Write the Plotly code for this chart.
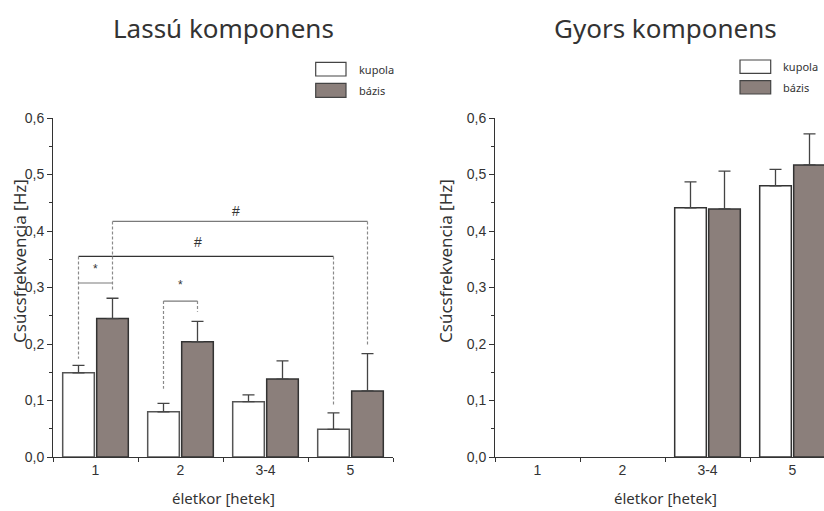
import plotly.graph_objects as go

# ---------------- data ----------------
categories = ["1", "2", "3-4", "5"]
series_names = ["kupola", "bázis"]

slow_kupola = [0.149, 0.080, 0.098, 0.049]
slow_kupola_err = [0.013, 0.015, 0.012, 0.029]
slow_bazis = [0.245, 0.204, 0.138, 0.117]
slow_bazis_err = [0.036, 0.036, 0.032, 0.066]

fast_kupola = [None, None, 0.441, 0.480]
fast_kupola_err = [0, 0, 0.046, 0.029]
fast_bazis = [None, None, 0.439, 0.517]
fast_bazis_err = [0, 0, 0.067, 0.055]

y_ticks = [0.0, 0.1, 0.2, 0.3, 0.4, 0.5, 0.6]

# significance brackets (left panel): start/end given as (category index, series)
sig_labels = ["*", "*", "#", "#"]
sig_start = [(0, "kupola"), (1, "kupola"), (0, "kupola"), (0, "bázis")]
sig_end = [(0, "bázis"), (1, "bázis"), (3, "kupola"), (3, "bázis")]
sig_level = [0.308, 0.276, 0.355, 0.417]
sig_drop_start = [None, 0.121, 0.174, 0.295]
sig_drop_end = [None, 0.257, 0.093, 0.198]
sig_label_x = [0.0, 1.0, 1.2, 1.65]
sig_label_y = [0.332, 0.305, 0.380, 0.436]
sig_line_color = ["#7a7a7a", "#7a7a7a", "#333333", "#7a7a7a"]

# ---------------- style ----------------
W, H = 824, 511
M_T, M_B = 118, 54
PLOT_H = H - M_T - M_B
CAT_PX = 85.0
LEFT_X0, LEFT_X1 = 53, 393
RIGHT_X0 = 495

KUPOLA_FILL = "#ffffff"
KUPOLA_LINE = "#555555"
BAZIS_FILL = "#8b7f7b"
BAZIS_LINE = "#333333"
AXIS_COL = "#333333"
TICK_FONT = dict(family="Liberation Sans, Arial, sans-serif", size=14, color="#333333")
TEXT_FONT = "Comic Sans MS, Noto Sans, sans-serif"

offset = {"kupola": -0.2, "bázis": 0.2}


def py_to_paper(py):
    return (H - M_B - py) / PLOT_H


def px_to_paper(px):
    return px / W


fig = go.Figure()


def add_bars(yvals, errs, name, fill, line, xa, ya):
    fig.add_trace(go.Bar(
        x=categories, y=yvals, name=name,
        marker=dict(color=fill, line=dict(color=line, width=1.5)),
        error_y=dict(type="data", symmetric=False, array=errs,
                     arrayminus=[0] * len(errs), color="#444444",
                     thickness=1.3, width=6),
        xaxis=xa, yaxis=ya, showlegend=False,
    ))


add_bars(slow_kupola, slow_kupola_err, series_names[0], KUPOLA_FILL, KUPOLA_LINE, "x", "y")
add_bars(slow_bazis, slow_bazis_err, series_names[1], BAZIS_FILL, BAZIS_LINE, "x", "y")
add_bars(fast_kupola, fast_kupola_err, series_names[0], KUPOLA_FILL, BAZIS_LINE, "x2", "y2")
add_bars(fast_bazis, fast_bazis_err, series_names[1], BAZIS_FILL, BAZIS_LINE, "x2", "y2")

shapes = []
annotations = []

# significance brackets
for i in range(len(sig_labels)):
    xa = sig_start[i][0] + offset[sig_start[i][1]]
    xb = sig_end[i][0] + offset[sig_end[i][1]]
    lvl = sig_level[i]
    shapes.append(dict(type="line", xref="x", yref="y", x0=xa, x1=xb, y0=lvl, y1=lvl,
                       line=dict(color=sig_line_color[i], width=1.2)))
    if sig_drop_start[i] is not None:
        shapes.append(dict(type="line", xref="x", yref="y", x0=xa, x1=xa, y0=lvl, y1=sig_drop_start[i],
                           line=dict(color="#8a8a8a", width=1.2, dash="3px,2px")))
    if sig_drop_end[i] is not None:
        shapes.append(dict(type="line", xref="x", yref="y", x0=xb, x1=xb, y0=lvl, y1=sig_drop_end[i],
                           line=dict(color="#8a8a8a", width=1.2, dash="3px,2px")))
    annotations.append(dict(x=sig_label_x[i], y=sig_label_y[i], xref="x", yref="y",
                            text=sig_labels[i], showarrow=False,
                            font=dict(family="Liberation Sans, Arial", size=14 if sig_labels[i] == "#" else 12,
                                      color="#333333")))

# legends (one per panel)
legend_boxes = [
    (315.7, 346.0, 356.7, [(62.3, 76.0), (83.3, 97.3)]),
    (740.0, 770.7, 780.7, [(60.0, 73.3), (80.7, 94.0)]),
]
for bx0, bx1, tx, rows in legend_boxes:
    for (r0, r1), nm, fill in zip(rows, series_names, [KUPOLA_FILL, BAZIS_FILL]):
        shapes.append(dict(type="rect", xref="paper", yref="paper",
                           x0=px_to_paper(bx0), x1=px_to_paper(bx1),
                           y0=py_to_paper(r1), y1=py_to_paper(r0),
                           fillcolor=fill, line=dict(color="#444444", width=1.2)))
        annotations.append(dict(x=px_to_paper(tx), y=py_to_paper((r0 + r1) / 2),
                                xref="paper", yref="paper", xanchor="left", yanchor="middle",
                                text=nm, showarrow=False,
                                font=dict(family=TEXT_FONT, size=11, color="#333333")))

# panel titles
for title, cx in [("Lassú komponens", (LEFT_X0 + LEFT_X1) / 2), ("Gyors komponens", RIGHT_X0 + 2 * CAT_PX)]:
    annotations.append(dict(x=px_to_paper(cx), y=py_to_paper(28), xref="paper", yref="paper",
                            text=title, showarrow=False, xanchor="center", yanchor="middle",
                            font=dict(family=TEXT_FONT, size=26, color="#333333")))

# axis titles
for cx in [(LEFT_X0 + LEFT_X1) / 2, RIGHT_X0 + 2 * CAT_PX]:
    annotations.append(dict(x=px_to_paper(cx), y=py_to_paper(498), xref="paper", yref="paper",
                            text="életkor [hetek]", showarrow=False, xanchor="center", yanchor="middle",
                            font=dict(family=TEXT_FONT, size=15, color="#333333")))
for cx in [19, 445]:
    annotations.append(dict(x=px_to_paper(cx), y=py_to_paper(261), xref="paper", yref="paper",
                            text="Csúcsfrekvencia [Hz]", showarrow=False, textangle=-90,
                            xanchor="center", yanchor="middle",
                            font=dict(family=TEXT_FONT, size=17, color="#333333")))

yaxis_common = dict(range=[0, 0.6], tickvals=y_ticks, tickformat=".1f", showline=True,
                    linecolor=AXIS_COL, linewidth=1, ticks="outside", ticklen=5,
                    tickcolor=AXIS_COL, showgrid=False, zeroline=False, tickfont=TICK_FONT,
                    minor=dict(ticks="outside", ticklen=3, dtick=0.05, tickcolor=AXIS_COL, showgrid=False))
xaxis_common = dict(type="category", categoryorder="array", categoryarray=categories,
                    tickson="boundaries", ticks="outside", ticklen=4, tickcolor=AXIS_COL,
                    showline=True, linecolor=AXIS_COL, linewidth=1, showgrid=False,
                    zeroline=False, tickfont=TICK_FONT)

fig.update_layout(
    width=W, height=H, autosize=False,
    margin=dict(l=0, r=0, t=M_T, b=M_B),
    plot_bgcolor="white", paper_bgcolor="white",
    separators=", ",
    barmode="group", bargap=0.2, bargroupgap=0.07,
    xaxis=dict(domain=[LEFT_X0 / W, LEFT_X1 / W], range=[-0.5, 3.5], anchor="y", **xaxis_common),
    yaxis=dict(domain=[0, 1], anchor="x", **yaxis_common),
    xaxis2=dict(domain=[RIGHT_X0 / W, 1.0], range=[-0.5, -0.5 + (W - RIGHT_X0) / CAT_PX],
                anchor="y2", **xaxis_common),
    yaxis2=dict(domain=[0, 1], anchor="x2", **yaxis_common),
    shapes=shapes, annotations=annotations,
)

fig.write_html("out.html", config={"displayModeBar": False},
               post_script="document.body.style.margin='0';document.body.style.overflow='hidden';")
